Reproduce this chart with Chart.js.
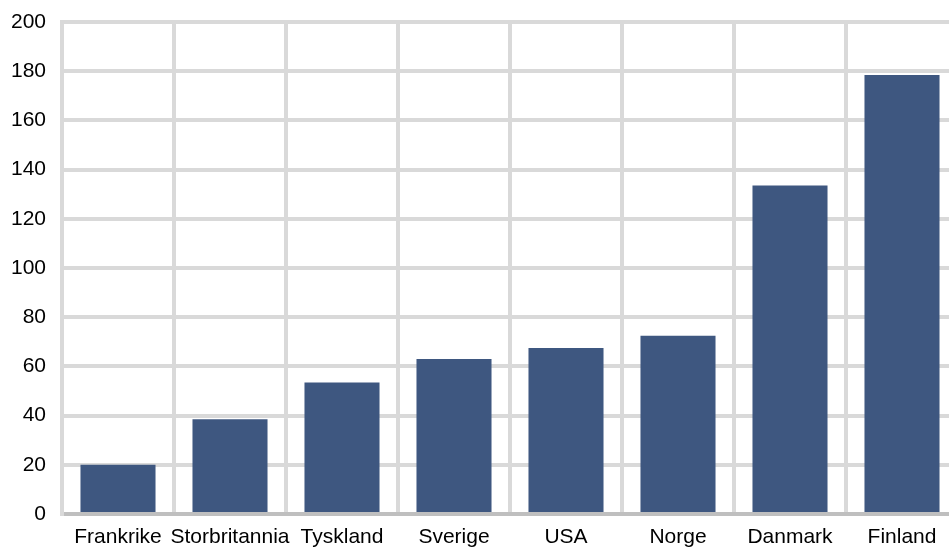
<!DOCTYPE html>
<html>
<head>
<meta charset="utf-8">
<script src="https://cdn.jsdelivr.net/npm/chart.js@4/dist/chart.umd.min.js"></script>
<style>
  html, body { margin: 0; padding: 0; background: #fff; overflow: hidden; }
</style>
</head>
<body>
<canvas id="chart-bar" width="958" height="549"></canvas>
<script>
var land = ['Frankrike', 'Storbritannia', 'Tyskland', 'Sverige', 'USA', 'Norge', 'Danmark', 'Finland'];
var verdi = [20, 38.5, 53.5, 63, 67.5, 72.5, 133.5, 178.5];
var yTicks = [0, 20, 40, 60, 80, 100, 120, 140, 160, 180, 200];

var ctxBar = document.getElementById('chart-bar').getContext('2d');
var chartBar = new Chart(ctxBar, {
    type: 'bar',
    data: {
        labels: land,
        datasets: [{
            data: verdi,
            backgroundColor: '#3e5780',
            barPercentage: 0.67,
            categoryPercentage: 1
        }]
    },
    options: {
        responsive: false,
        animation: false,
        layout: { padding: { top: 22, right: 0, left: 0, bottom: 0 } },
        plugins: { legend: { display: false }, tooltip: { enabled: false } },
        scales: {
            x: {
                afterFit: function (s) { s.height = 35; s.paddingLeft = 0; s.paddingRight = 0; },
                grid: { offset: true, color: '#d9d9d9', lineWidth: 4, drawTicks: false },
                border: { color: '#bfbfbf', width: 4 },
                ticks: { color: '#000', font: { family: 'Liberation Sans', size: 21 }, padding: 11, maxRotation: 0, autoSkip: false }
            },
            y: {
                min: 0,
                max: 200,
                afterFit: function (s) { s.width = 62; s.paddingTop = 0; s.paddingBottom = 0; },
                afterBuildTicks: function (s) { s.ticks = yTicks.map(function (v) { return { value: v }; }); },
                grid: { color: '#d9d9d9', lineWidth: 4, drawTicks: false },
                border: { color: '#d9d9d9', width: 4 },
                ticks: { color: '#000', font: { family: 'Liberation Sans', size: 21 }, padding: 16 }
            }
        }
    }
});
</script>
</body>
</html>
